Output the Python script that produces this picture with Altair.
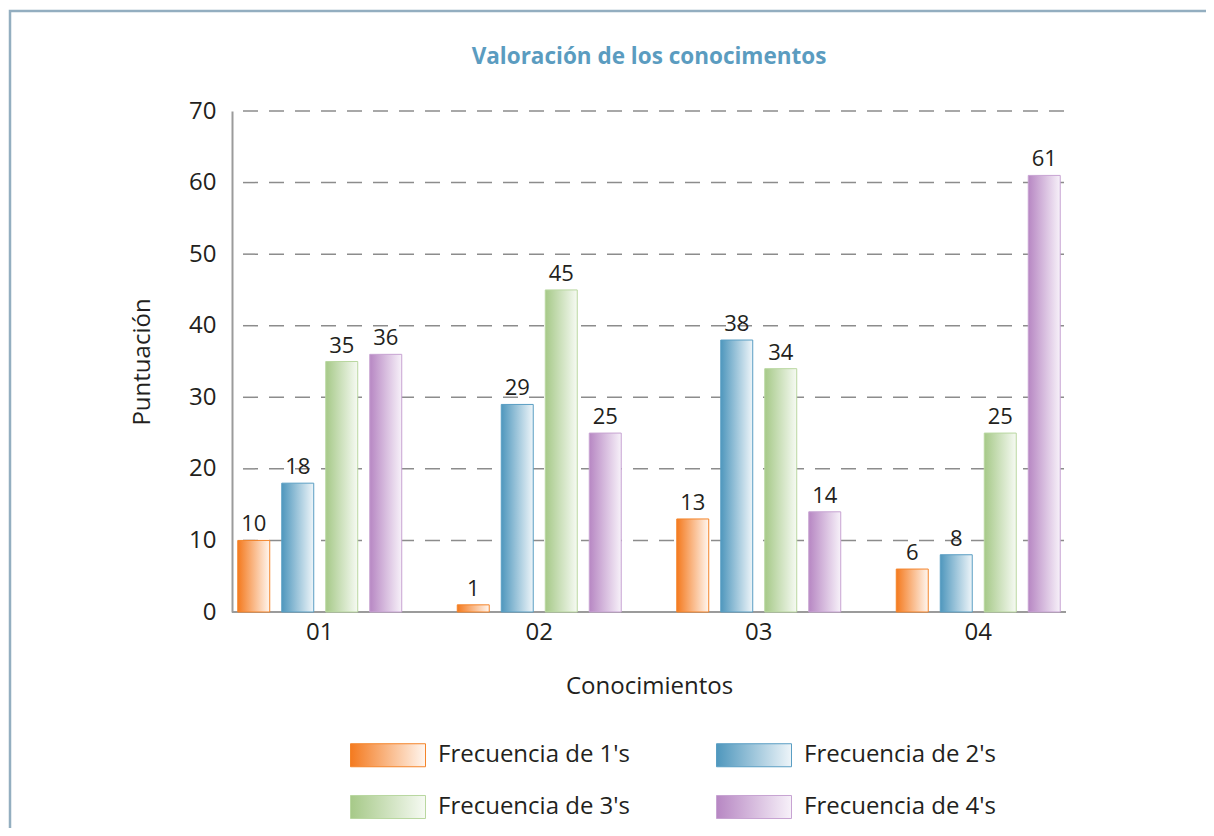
import altair as alt
import pandas as pd

groups = ["01", "02", "03", "04"]
series = ["Frecuencia de 1's", "Frecuencia de 2's", "Frecuencia de 3's", "Frecuencia de 4's"]
freq1 = [10, 1, 13, 6]
freq2 = [18, 29, 38, 8]
freq3 = [35, 45, 34, 25]
freq4 = [36, 25, 14, 61]
y_ticks = [0, 10, 20, 30, 40, 50, 60, 70]
grid_values = [10, 20, 30, 40, 50, 60, 70]

grad_start = ["#f47a1f", "#4f97bd", "#a6c988", "#b787c3"]
grad_end = ["#fff6ef", "#eef5f9", "#f6faf3", "#f7f1f9"]
stroke_cols = ["#f4842a", "#5a9ec3", "#b9d7a0", "#c7a3d2"]

FONT = "Open Sans"
TXT = "#231f20"

rows = []
for s, vals in zip(series, [freq1, freq2, freq3, freq4]):
    for g, v in zip(groups, vals):
        rows.append({"grupo": g, "serie": s, "valor": v})
df = pd.DataFrame(rows)

fill_range = [
    {"expr": "{gradient: 'linear', x1: 0, y1: 0, x2: 1, y2: 0, stops: [{offset: 0, color: '%s'}, {offset: 1, color: '%s'}]}" % (a, b)}
    for a, b in zip(grad_start, grad_end)
]

y_scale = alt.Scale(domain=[0, 70], nice=False)
x_scale = alt.Scale(paddingInner=0, paddingOuter=0,
                    range=[{"expr": "-22"}, {"expr": "width + 22"}])
x_enc = alt.X("grupo:N", sort=groups, scale=x_scale,
              axis=alt.Axis(title="Conocimientos", labelAngle=0, ticks=False,
                            domain=False, grid=False, labelPadding=8, titlePadding=30))
xo_enc = alt.XOffset("serie:N", sort=series,
                     scale=alt.Scale(paddingInner=0.273, paddingOuter=0.631))
y_enc = alt.Y("valor:Q", scale=y_scale,
              axis=alt.Axis(title="Puntuación", values=y_ticks,
                            ticks=False, labelPadding=16, titlePadding=34,
                            grid=False, domain=True))

legend_kw = dict(title=None, orient="none", legendX=118, legendY=606,
                 direction="horizontal",
                 columns=2, columnPadding=83, rowPadding=0,
                 symbolType="M-1,-0.3067H1V0.3067H-1Z",
                 symbolSize=5625, symbolStrokeWidth=1,
                 labelOffset=12, labelFontSize=24, labelFont=FONT,
                 labelColor=TXT, padding=0, labelLimit=400)

grid = alt.Chart(pd.DataFrame({"g": grid_values})).mark_rule(
    color="#8c8c8c", strokeWidth=1.5, strokeDash=[15, 11], strokeDashOffset=15
).encode(y=alt.Y("g:Q", scale=y_scale), x=alt.value(0), x2=alt.value(834))

baseline = alt.Chart(alt.Data(values=[{"k": 1}])).mark_rule(
    color="#9b9b9b", strokeWidth=2
).encode(y=alt.datum(0), x=alt.value(0), x2=alt.value(834))

bars = alt.Chart(df).mark_bar(strokeWidth=1).encode(
    x=x_enc,
    xOffset=xo_enc,
    y=y_enc,
    fill=alt.Fill("serie:N", sort=series,
                  scale=alt.Scale(domain=series, range=fill_range),
                  legend=alt.Legend(**legend_kw)),
    stroke=alt.Stroke("serie:N", sort=series,
                      scale=alt.Scale(domain=series, range=stroke_cols),
                      legend=alt.Legend(**legend_kw)),
)

labels = alt.Chart(df).mark_text(baseline="alphabetic", dy=-9, fontSize=22,
                                 font=FONT, color=TXT).encode(
    x=alt.X("grupo:N", sort=groups),
    xOffset=alt.XOffset("serie:N", sort=series),
    y="valor:Q",
    text="valor:Q",
)

frame = alt.Chart(alt.Data(values=[{"k": 1}])).mark_rect(
    fill=None, stroke="#93aec0", strokeWidth=2.5
).encode(
    x=alt.value(-222), y=alt.value(-100), x2=alt.value(1400), y2=alt.value(1000)
)

chart = alt.layer(frame, grid, baseline, bars, labels).properties(
    width=834, height=501,
    title=alt.Title("Valoración de los conocimentos", fontSize=22.5, fontWeight="bold",
                    color="#5b9cc0", font=FONT, offset=0, dy=59, frame="group"),
    padding={"left": 224, "top": 103, "right": 140, "bottom": 216},
    autosize=alt.AutoSizeParams(type="none"),
).configure_view(stroke=None).configure_axis(
    labelFont=FONT, titleFont=FONT, labelFontSize=24, titleFontSize=24,
    labelColor=TXT, titleColor=TXT, titleFontWeight="normal",
    domainColor="#9b9b9b", domainWidth=2,
)

chart.save("out.html", embed_options={"renderer": "svg", "actions": False})
